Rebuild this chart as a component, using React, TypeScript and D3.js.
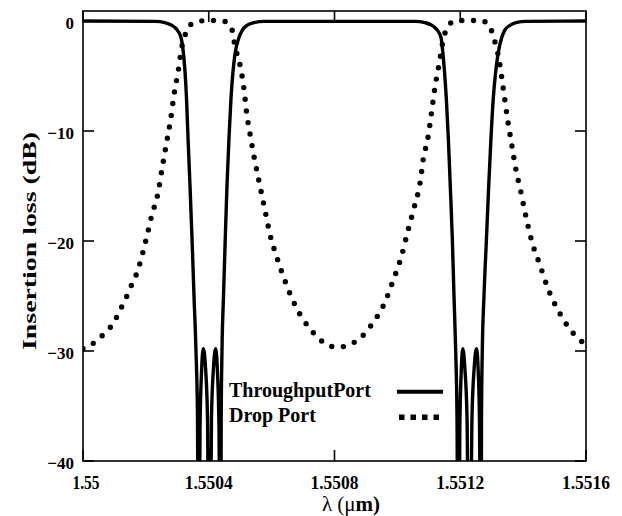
import { useRef, useEffect } from "react";
import * as d3 from "d3";

// wavelength (um) vs insertion loss (dB)
const throughPort: [number, number][] = [
  [1.55, 0],
  [1.550229, -0.03],
  [1.5502608, -0.15],
  [1.5502831, -0.4],
  [1.550299, -0.8],
  [1.5503117, -1.5],
  [1.5503197, -3.0],
  [1.5503245, -4.6],
  [1.5503292, -7.0],
  [1.550334, -10.6],
  [1.5503404, -15.0],
  [1.5503467, -19.7],
  [1.5503531, -25.0],
  [1.5503594, -30.0],
  [1.5503642, -36.0],
  [1.5503674, -60.0],
  [1.5503722, -37.0],
  [1.5503769, -32.0],
  [1.5503827, -29.8],
  [1.5503897, -31.5],
  [1.550396, -36.0],
  [1.5504024, -60.0],
  [1.5504087, -36.0],
  [1.5504151, -31.5],
  [1.5504221, -29.8],
  [1.5504278, -32.0],
  [1.5504326, -37.0],
  [1.5504374, -60.0],
  [1.5504396, -36.0],
  [1.5504421, -30.0],
  [1.5504469, -25.0],
  [1.5504526, -19.7],
  [1.550458, -15.0],
  [1.5504644, -10.6],
  [1.5504708, -7.0],
  [1.5504771, -4.6],
  [1.5504835, -3.0],
  [1.5504962, -1.5],
  [1.5505074, -0.8],
  [1.5505217, -0.4],
  [1.5505439, -0.15],
  [1.5505757, -0.03],
  [1.5510561, -0.03],
  [1.5510879, -0.15],
  [1.5511101, -0.4],
  [1.551126, -0.8],
  [1.5511388, -1.5],
  [1.5511451, -3.0],
  [1.5511499, -4.6],
  [1.5511556, -7.0],
  [1.551162, -10.6],
  [1.5511683, -15.0],
  [1.5511747, -19.7],
  [1.5511801, -25.0],
  [1.5511855, -30.0],
  [1.5511897, -36.0],
  [1.5511938, -60.0],
  [1.5511986, -37.0],
  [1.551203, -32.0],
  [1.5512081, -29.8],
  [1.5512145, -31.5],
  [1.5512215, -36.0],
  [1.5512294, -60.0],
  [1.5512374, -36.0],
  [1.5512444, -31.5],
  [1.5512517, -29.8],
  [1.5512574, -32.0],
  [1.5512615, -37.0],
  [1.5512654, -60.0],
  [1.5512676, -36.0],
  [1.5512701, -30.0],
  [1.5512755, -25.0],
  [1.5512835, -19.7],
  [1.5512905, -15.0],
  [1.5512978, -10.6],
  [1.5513051, -7.0],
  [1.5513128, -4.6],
  [1.5513201, -3.0],
  [1.5513319, -1.5],
  [1.5513423, -0.8],
  [1.5513582, -0.4],
  [1.5513773, -0.15],
  [1.5514091, -0.03],
  [1.5516, 0],
];

const dropPort: [number, number][] = [
  [1.55, -29.8],
  [1.5500223, -29.5],
  [1.5500541, -28.8],
  [1.5500786, -28.1],
  [1.5500964, -27.5],
  [1.5501155, -26.4],
  [1.5501336, -25.4],
  [1.5501495, -24.3],
  [1.5501676, -23.2],
  [1.5501813, -22.0],
  [1.5502004, -19.9],
  [1.5502185, -17.7],
  [1.5502395, -15.5],
  [1.5502522, -13.3],
  [1.5502662, -11.0],
  [1.550279, -8.9],
  [1.5502895, -6.7],
  [1.5503031, -4.5],
  [1.550314, -2.4],
  [1.5503245, -1.3],
  [1.5503435, -0.3],
  [1.5503722, 0.0],
  [1.5504094, 0.05],
  [1.5504463, 0.0],
  [1.550473, -0.7],
  [1.5504803, -1.8],
  [1.5504889, -2.9],
  [1.5504994, -4.0],
  [1.5505121, -6.2],
  [1.5505207, -8.4],
  [1.5505334, -10.6],
  [1.5505471, -12.8],
  [1.550563, -15.0],
  [1.5505789, -17.2],
  [1.5505948, -19.4],
  [1.550618, -21.6],
  [1.5506448, -23.8],
  [1.5506775, -26.0],
  [1.5507198, -27.9],
  [1.5507485, -28.8],
  [1.5507803, -29.5],
  [1.5508121, -29.65],
  [1.5508493, -29.4],
  [1.5508811, -28.85],
  [1.5509183, -27.6],
  [1.5509393, -26.7],
  [1.5509584, -25.7],
  [1.550987, -23.55],
  [1.5510138, -21.3],
  [1.5510328, -19.15],
  [1.5510538, -16.9],
  [1.551072, -14.75],
  [1.5510825, -12.55],
  [1.5510984, -10.4],
  [1.5511092, -8.2],
  [1.5511197, -6.0],
  [1.5511334, -3.8],
  [1.5511461, -1.7],
  [1.5511601, -0.5],
  [1.5511833, 0.0],
  [1.5512205, 0.05],
  [1.5512596, 0.05],
  [1.5512892, -0.25],
  [1.5513051, -1.4],
  [1.5513233, -3.5],
  [1.5513338, -5.5],
  [1.5513509, -9.0],
  [1.5513636, -11.2],
  [1.5513764, -13.4],
  [1.5513932, -15.6],
  [1.5514091, -17.8],
  [1.5514273, -20.0],
  [1.5514537, -22.2],
  [1.5514801, -24.4],
  [1.5515173, -26.6],
  [1.5515596, -28.4],
  [1.5515946, -29.3],
  [1.5516, -29.4],
];

const xTicks = [1.55, 1.5504, 1.5508, 1.5512, 1.5516];
const xTickLabels = ["1.55", "1.5504", "1.5508", "1.5512", "1.5516"];
const yTicks = [0, -10, -20, -30, -40];
const yTickLabels = ["0", "\u221210", "\u221220", "\u221230", "\u221240"];
const seriesNames = ["ThroughputPort", "Drop Port"];

const FONT = "'Liberation Serif', 'Times New Roman', serif";

export default function App() {
  const svgRef = useRef<SVGSVGElement>(null);

  useEffect(() => {
    document.body.style.margin = "0";
    const svg = d3.select(svgRef.current);
    svg.selectAll("*").remove();

    const width = 622;
    const height = 516;
    const margin = { top: 11, right: 36, bottom: 55, left: 83 };

    const x = d3
      .scaleLinear()
      .domain([1.55, 1.5516])
      .range([margin.left, width - margin.right]);
    const y = d3
      .scaleLinear()
      .domain([-40, 0.91])
      .range([height - margin.bottom, margin.top]);

    svg.attr("width", width).attr("height", height).style("font-family", FONT);
    svg.append("rect").attr("width", width).attr("height", height).attr("fill", "#fff");

    svg
      .append("clipPath")
      .attr("id", "plot-clip")
      .append("rect")
      .attr("x", x.range()[0])
      .attr("y", y.range()[1])
      .attr("width", x.range()[1] - x.range()[0])
      .attr("height", y.range()[0] - y.range()[1]);

    const line = d3
      .line<[number, number]>()
      .x((d) => x(d[0]))
      .y((d) => y(d[1]))
      .curve(d3.curveMonotoneX);

    const plot = svg.append("g").attr("clip-path", "url(#plot-clip)");

    // Drop port: dotted
    plot
      .append("path")
      .datum(dropPort)
      .attr("d", line)
      .attr("fill", "none")
      .attr("stroke", "#000")
      .attr("stroke-width", 5.4)
      .attr("stroke-linecap", "round")
      .attr("stroke-dasharray", "0 11.7");

    // Through port: solid
    plot
      .append("path")
      .datum(throughPort)
      .attr("d", line)
      .attr("fill", "none")
      .attr("stroke", "#000")
      .attr("stroke-width", 3.4)
      .attr("stroke-linejoin", "round");

    // Frame
    svg
      .append("rect")
      .attr("x", x.range()[0])
      .attr("y", y.range()[1])
      .attr("width", x.range()[1] - x.range()[0])
      .attr("height", y.range()[0] - y.range()[1])
      .attr("fill", "none")
      .attr("stroke", "#000")
      .attr("stroke-width", 1.6);

    // Inward ticks on all four sides
    const tickLen = 11;
    const ticks = svg.append("g").attr("stroke", "#000").attr("stroke-width", 1.6);
    xTicks.forEach((t) => {
      ticks.append("line").attr("x1", x(t)).attr("x2", x(t)).attr("y1", y.range()[0]).attr("y2", y.range()[0] - tickLen);
      ticks.append("line").attr("x1", x(t)).attr("x2", x(t)).attr("y1", y.range()[1]).attr("y2", y.range()[1] + tickLen);
    });
    yTicks.forEach((t) => {
      ticks.append("line").attr("x1", x.range()[0]).attr("x2", x.range()[0] + tickLen).attr("y1", y(t)).attr("y2", y(t));
      ticks.append("line").attr("x1", x.range()[1]).attr("x2", x.range()[1] - tickLen).attr("y1", y(t)).attr("y2", y(t));
    });

    // Tick labels
    svg
      .selectAll(".xlab")
      .data(xTicks)
      .join("text")
      .attr("x", (d, i) => x(d) + (i === 0 ? 3 : 0))
      .attr("y", 489)
      .attr("text-anchor", "middle")
      .attr("font-size", 19)
      .attr("font-weight", "bold")
      .attr("textLength", (d, i) => (i === 0 ? 27 : 48))
      .attr("lengthAdjust", "spacingAndGlyphs")
      .text((d, i) => xTickLabels[i]);

    svg
      .selectAll(".ylab")
      .data(yTicks)
      .join("text")
      .attr("x", 74)
      .attr("y", (d) => y(d) + 8)
      .attr("text-anchor", "end")
      .attr("font-size", 17)
      .attr("font-weight", "bold")
      .text((d, i) => yTickLabels[i]);

    // Axis titles
    const xt = svg
      .append("text")
      .attr("x", 351)
      .attr("y", 511)
      .attr("text-anchor", "middle")
      .attr("font-size", 21);
    xt.append("tspan").text("\u03bb (");
    xt.append("tspan").text("\u03bc");
    xt.append("tspan").attr("font-weight", "bold").text("m)");

    svg
      .append("text")
      .attr("transform", `translate(36,${y(-20)}) rotate(-90)`)
      .attr("text-anchor", "middle")
      .attr("font-size", 19)
      .attr("font-weight", "bold")
      .attr("textLength", 218)
      .attr("lengthAdjust", "spacingAndGlyphs")
      .text("Insertion loss (dB)");

    // Legend
    const legend = svg.append("g");
    legend
      .append("text")
      .attr("x", 229)
      .attr("y", 397)
      .attr("font-size", 20)
      .attr("font-weight", "bold")
      .text(seriesNames[0]);
    legend
      .append("text")
      .attr("x", 229)
      .attr("y", 422)
      .attr("font-size", 20)
      .attr("font-weight", "bold")
      .text(seriesNames[1]);
    legend
      .append("line")
      .attr("x1", 397)
      .attr("x2", 443)
      .attr("y1", 391.7)
      .attr("y2", 391.7)
      .attr("stroke", "#000")
      .attr("stroke-width", 4);
    legend
      .append("line")
      .attr("x1", 399)
      .attr("x2", 442)
      .attr("y1", 417.3)
      .attr("y2", 417.3)
      .attr("stroke", "#000")
      .attr("stroke-width", 5.5)
      .attr("stroke-dasharray", "5.5 6");
  }, []);

  return <svg ref={svgRef} style={{ display: "block" }} />;
}
